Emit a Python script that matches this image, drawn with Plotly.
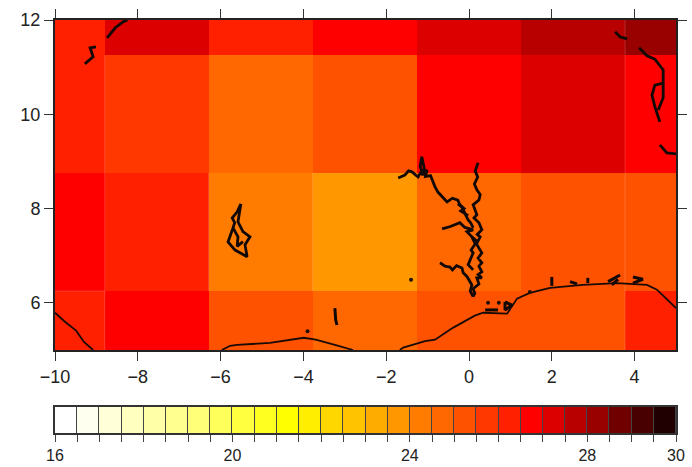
import plotly.graph_objects as go

lon_edges = [-10, -8.8, -6.29, -3.78, -1.26, 1.26, 3.77, 5]
lat_edges = [5, 6.25, 8.76, 11.26, 12]
temps = [
    [26.25, 26.75, 25.25, 24.75, 25.25, 25.25, 26.25],
    [26.75, 26.25, 24.25, 23.75, 24.75, 25.25, 25.25],
    [26.25, 25.75, 24.75, 25.25, 26.75, 27.25, 26.75],
    [26.25, 27.25, 26.25, 26.75, 27.25, 27.75, 28.25],
]
palette = ["#ffffff", "#fffff0", "#ffffd8", "#ffffc0", "#ffffa8", "#ffff90", "#ffff78",
           "#ffff5c", "#ffff40", "#ffff20", "#ffff00", "#ffee00", "#ffd700", "#ffc300",
           "#ffac00", "#ff9800", "#ff7c00", "#ff6800", "#ff5200", "#ff3800", "#ff2000",
           "#ff0000", "#dd0000", "#b80000", "#990000", "#700000", "#480000", "#200000"]
bar_levels = [16.25 + 0.5 * i for i in range(28)]
bar_ticks = [16 + 0.5 * i for i in range(29)]
bar_labels = {16: "16", 20: "20", 24: "24", 28: "28", 30: "30"}

coast_lon = [-10, -9.76, -9.49, -9.3, -9.08, None,
             -5.97, -5.77, -5.60, -4.81, -3.99, -3.70, -3.24, -2.80, None,
             -1.67, -1.59, -1.06, -0.82, -0.39, 0.14, 0.34, 0.92, 1.16, 1.47, 1.96,
             2.75, 3.57, 4.30, 4.54, 5.0]
coast_lat = [5.79, 5.60, 5.41, 5.17, 5.0, None,
             5.0, 5.09, 5.11, 5.15, 5.26, 5.22, 5.11, 5.0, None,
             5.0, 5.05, 5.19, 5.22, 5.47, 5.73, 5.79, 5.77, 6.09, 6.21, 6.32,
             6.38, 6.42, 6.38, 6.28, 5.89]

lake_lon = [-1.71, -1.62, -1.55, -1.46, -1.38, -1.30, -1.23, -1.17, -1.11, -1.18, -1.14, -1.08, -1.11,
            -1.01, -1.05, -0.93, -0.89, -0.82, -0.75, -0.64, -0.53, -0.40, -0.27, -0.22,
            -0.17, -0.10, -0.02, 0.04, 0.10, None,
            0.22, 0.15, 0.21, 0.13, 0.19, 0.27, 0.24, 0.10, 0.19, 0.12, 0.24, 0.31, 0.20, 0.27, 0.18, 0.31,
            0.22, 0.31, 0.24, 0.31, 0.22, 0.31, 0.19, 0.24, 0.10, 0.14, 0.10, None,
            0.07, 0.15, 0.05, 0.10, -0.02, 0.10, None,
            -0.70, -0.58, -0.46, -0.40, -0.30, -0.17, -0.14, -0.05, 0.07, 0.03, 0.10, None,
            -0.65, -0.45, -0.22, -0.10, 0.10, -0.05, 0.07, 0.20, None,
            -0.27, -0.12, -0.20, -0.02, None,
            -5.51, -5.60, -5.72, -5.66, -5.70, -5.82, -5.65, -5.50, -5.36, -5.41, -5.29, -5.46, -5.58, -5.51, None,
            -5.70, -5.58, -5.60, -5.46, None,
            3.53, 3.65, 3.82, None,
            4.11, 4.30, 4.49, 4.69, 4.69, 4.49, 4.42, 4.49, 4.61, None,
            4.69, 4.69, 4.57, None,
            4.61, 4.78, 5.0, None,
            -8.74, -8.55, -8.36, -8.25, None,
            -9.01, -9.15, -9.08, -9.28]
lake_lat = [8.65, 8.68, 8.71, 8.80, 8.78, 8.72, 8.67, 8.76, 8.71, 8.90, 9.10, 8.85, 8.71,
            8.82, 8.68, 8.70, 8.61, 8.46, 8.35, 8.25, 8.14, 8.22, 8.18, 8.08,
            8.04, 7.90, 7.76, 7.70, 7.59, None,
            8.97, 8.80, 8.67, 8.52, 8.40, 8.30, 8.18, 8.08, 7.87, 7.80, 7.70, 7.55, 7.45, 7.40, 7.25, 7.06,
            6.95, 6.85, 6.78, 6.66, 6.60, 6.53, 6.53, 6.40, 6.30, 6.20, 6.13, None,
            7.40, 7.25, 7.12, 7.06, 6.81, 6.70, None,
            6.85, 6.78, 6.76, 6.70, 6.79, 6.74, 6.64, 6.56, 6.38, 6.25, 6.13, None,
            7.57, 7.62, 7.70, 7.60, 7.55, 7.51, 7.40, 7.30, None,
            8.10, 8.00, 7.95, 7.85, None,
            8.10, 7.93, 7.80, 7.70, 7.59, 7.29, 7.12, 7.05, 6.98, 7.23, 7.40, 7.51, 7.72, 8.10, None,
            7.59, 7.40, 7.20, 7.30, None,
            11.75, 11.64, 11.60, None,
            11.41, 11.24, 11.17, 10.94, 10.66, 10.62, 10.41, 10.16, 9.84, None,
            10.66, 10.35, 10.09, None,
            9.35, 9.18, 9.16, None,
            11.62, 11.83, 11.96, 12.0, None,
            11.43, 11.41, 11.22, 11.07]

isle_lon = [2.0, 2.0, None, 2.44, 2.61, None, 2.87, 2.87, None, 3.36, 3.65, None, 3.96, 4.20, 3.96, None,
            3.45, 3.60, None, 0.87, 1.04, 0.87, 0.87, None, 0.39, 0.70, None, -3.24, -3.22, -3.19]
isle_lat = [6.55, 6.36, None, 6.45, 6.40, None, 6.53, 6.42, None, 6.45, 6.59, None, 6.55, 6.50, 6.42, None,
            6.38, 6.50, None, 6.02, 5.95, 5.85, 6.02, None, 5.85, 5.85, None, 5.89, 5.64, 5.53]
dot_lon = [-3.9, -1.40, 1.47, 0.46, 0.72]
dot_lat = [5.40, 6.49, 6.23, 6.00, 6.00]

edge_lon = [-8.8, -8.8, None, 3.77, 3.77, None, -10, -8.8, None, -6.29, -6.29, None, -3.78, -3.78]
edge_lat = [5, 11.26, None, 5, 12, None, 6.25, 6.25, None, 6.25, 8.76, None, 6.25, 8.76]

scale = []
for i, c in enumerate(palette):
    scale += [[i / 28, c], [(i + 1) / 28, c]]

fig = go.Figure()
fig.add_trace(go.Heatmap(x=lon_edges, y=lat_edges, z=temps, zmin=16, zmax=30, colorscale=scale,
                         showscale=False, hoverongaps=False))
fig.add_trace(go.Scatter(x=edge_lon, y=edge_lat, mode="lines", showlegend=False,
                         line=dict(color="rgba(255,255,255,0.16)", width=1)))
fig.add_trace(go.Scatter(x=coast_lon, y=coast_lat, mode="lines", showlegend=False,
                         line=dict(color="#1a0a05", width=1.8)))
fig.add_trace(go.Scatter(x=lake_lon, y=lake_lat, mode="lines", showlegend=False,
                         line=dict(color="#120805", width=2.8)))
fig.add_trace(go.Scatter(x=isle_lon, y=isle_lat, mode="lines", showlegend=False,
                         line=dict(color="#120805", width=3)))
fig.add_trace(go.Scatter(x=dot_lon, y=dot_lat, mode="markers", showlegend=False,
                         marker=dict(color="#201008", size=4)))
fig.add_trace(go.Heatmap(x=bar_ticks, y=[0, 1], z=[bar_levels], zmin=16, zmax=30, colorscale=scale,
                         showscale=False, xgap=1, xaxis="x2", yaxis="y2"))

font = dict(family="Liberation Sans, Arial, sans-serif", size=18, color="#222222")
bar_font = dict(family="Liberation Sans, Arial, sans-serif", size=16, color="#222222")
ax = dict(showgrid=False, zeroline=False, showline=True, linecolor="#222222", linewidth=2,
          mirror="allticks", ticks="outside", ticklen=9, tickwidth=1.2, tickcolor="#333333",
          tickfont=font, automargin=False)
fig.update_layout(
    template="none",
    width=692, height=467, margin=dict(l=0, r=0, t=0, b=0), showlegend=False,
    paper_bgcolor="white", plot_bgcolor="#444444",
    xaxis=dict(ax, domain=[55 / 692, 676 / 692], range=[-10, 5], tickvals=[-10, -8, -6, -4, -2, 0, 2, 4],
               anchor="y"),
    yaxis=dict(ax, domain=[1 - 350 / 467, 1 - 20 / 467], range=[5, 12], tickvals=[6, 8, 10, 12], anchor="x"),
    xaxis2=dict(showgrid=False, zeroline=False, showline=True, linecolor="#333333", linewidth=2, mirror=True,
                domain=[55 / 692, 676 / 692], range=[16, 30], anchor="y2", ticks="outside", ticklen=7,
                tickwidth=1, tickcolor="#444444", tickfont=bar_font, tickvals=bar_ticks, automargin=False,
                ticktext=[bar_labels.get(t, "") for t in bar_ticks]),
    yaxis2=dict(showgrid=False, zeroline=False, showline=True, linecolor="#333333", linewidth=2, mirror=True,
                domain=[1 - 433 / 467, 1 - 407 / 467], range=[0, 1], showticklabels=False, ticks="",
                anchor="x2", automargin=False),
)
fig.write_html("out.html", config={"displayModeBar": False},
               post_script="document.body.style.margin='0';document.body.style.overflow='hidden';")
